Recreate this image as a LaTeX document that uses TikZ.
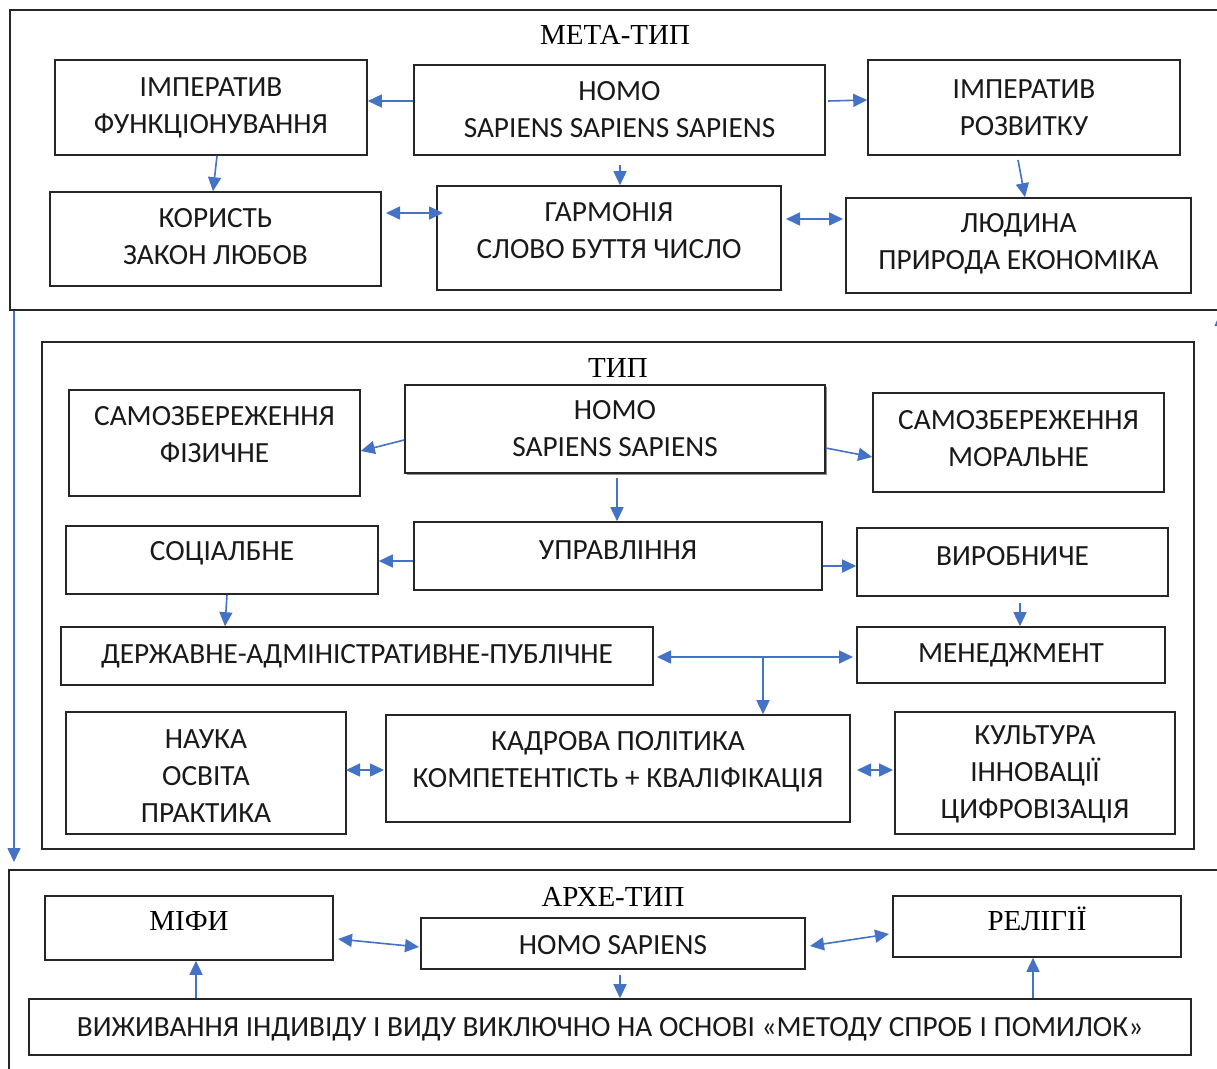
\documentclass[tikz,border=0pt]{standalone}
\usepackage{fontspec}
\setmainfont{Liberation Serif}
\newfontfamily\boxfont{Carlito}
\usetikzlibrary{arrows.meta,shadows}
\definecolor{arrowblue}{HTML}{4472C4}
\begin{document}
\begin{tikzpicture}[x=1pt,y=-1pt,
  frame/.style={draw=black!85,line width=1.6pt},
  box/.style={draw=black!85,line width=1.6pt,fill=white,inner sep=0pt},
  txt/.style={font=\boxfont\fontsize{29.3}{37}\selectfont,align=center,text=black!90},
  ttl/.style={font=\fontsize{29}{33}\selectfont,text=black},
  arr/.style={draw=arrowblue,line width=1.6pt,-{Triangle[length=14pt,width=13pt]}},
  darr/.style={draw=arrowblue,line width=1.6pt,{Triangle[length=14pt,width=13pt]}-{Triangle[length=14pt,width=13pt]}}
]
\useasboundingbox (0,0) rectangle (1217,1068);
\fill[white] (0,0) rectangle (1217,1068);

% frames
\draw[frame] (10,10) rectangle (1240,310);
\draw[frame] (42,342) rectangle (1194,849);
\draw[frame] (9,870) rectangle (1240,1090);

% titles
\node[ttl] (t1) at (615,35) {МЕТА-ТИП};
\node[ttl] (t2) at (618,368) {ТИП};
\node[ttl] (t3) at (613,897) {АРХЕ-ТИП};

% top section
\node[box,minimum width=312,minimum height=95,label={[txt]center:ІМПЕРАТИВ\\ФУНКЦІОНУВАННЯ}] (A) at (211,107.5) {};
\node[box,minimum width=411,minimum height=90,label={[txt]center:HOMO\\SAPIENS SAPIENS SAPIENS}] (B) at (619.5,110) {};
\node[box,minimum width=312,minimum height=95,label={[txt]center:ІМПЕРАТИВ\\РОЗВИТКУ}] (C) at (1024,107.5) {};
\node[box,minimum width=331,minimum height=94,label={[txt,yshift=2pt]center:КОРИСТЬ\\ЗАКОН ЛЮБОВ}] (D) at (215.5,239) {};
\node[box,minimum width=344,minimum height=104,label={[txt,yshift=7pt]center:ГАРМОНІЯ\\СЛОВО БУТТЯ ЧИСЛО}] (E) at (609,238) {};
\node[box,minimum width=345,minimum height=95,label={[txt,yshift=2pt]center:ЛЮДИНА\\ПРИРОДА ЕКОНОМІКА}] (F) at (1018.5,245.5) {};

% middle section
\node[box,minimum width=291,minimum height=106,label={[txt,yshift=8pt]center:САМОЗБЕРЕЖЕННЯ\\ФІЗИЧНЕ}] (M1) at (214.5,443) {};
\node[box,drop shadow={shadow xshift=2pt,shadow yshift=-2pt,fill=black!45,opacity=1},minimum width=420,minimum height=88,label={[txt]center:HOMO\\SAPIENS SAPIENS}] (M2) at (615,429) {};
\node[box,minimum width=291,minimum height=99,label={[txt,yshift=4pt]center:САМОЗБЕРЕЖЕННЯ\\МОРАЛЬНЕ}] (M3) at (1018.5,442.5) {};
\node[box,minimum width=312,minimum height=68,label={[txt,yshift=7pt]center:СОЦІАЛБНЕ}] (M4) at (222,560) {};
\node[box,minimum width=408,minimum height=68,label={[txt,yshift=6pt]center:УПРАВЛІННЯ}] (M5) at (618,556) {};
\node[box,minimum width=311,minimum height=68,label={[txt,yshift=6pt]center:ВИРОБНИЧЕ}] (M6) at (1012.5,562) {};
\node[box,minimum width=592,minimum height=58,label={[txt]center:ДЕРЖАВНЕ-АДМІНІСТРАТИВНЕ-ПУБЛІЧНЕ}] (M7) at (357,656) {};
\node[box,minimum width=308,minimum height=56,label={[txt]center:МЕНЕДЖМЕНТ}] (M8) at (1011,655) {};
\node[box,minimum width=280,minimum height=122,label={[txt,yshift=-3pt]center:НАУКА\\ОСВІТА\\ПРАКТИКА}] (M9) at (206,773) {};
\node[box,minimum width=464,minimum height=107,label={[txt,yshift=7pt]center:КАДРОВА ПОЛІТИКА\\КОМПЕТЕНТІСТЬ + КВАЛІФІКАЦІЯ}] (M10) at (618,768.5) {};
\node[box,minimum width=280,minimum height=122,label={[txt,yshift=-1pt]center:КУЛЬТУРА\\ІННОВАЦІЇ\\ЦИФРОВІЗАЦІЯ}] (M11) at (1035,773) {};

% bottom section
\node[box,minimum width=288,minimum height=64,label={[ttl,yshift=7pt]center:МІФИ}] (B1) at (189,928) {};
\node[box,minimum width=384,minimum height=51,label={[txt,yshift=-2pt]center:HOMO SAPIENS}] (B2) at (613,943.5) {};
\node[box,minimum width=288,minimum height=61,label={[ttl,yshift=8pt]center:РЕЛІГІЇ}] (B3) at (1037,926.5) {};
\node[box,minimum width=1162,minimum height=56,label={[txt,yshift=-2pt]center:ВИЖИВАННЯ ІНДИВІДУ І ВИДУ ВИКЛЮЧНО НА ОСНОВІ «МЕТОДУ СПРОБ І ПОМИЛОК»}] (B4) at (610,1027) {};

% top arrows
\draw[arr] (B.west |- 0,101) -- (A.east |- 0,101);
\draw[arr] (828,101) -- (C.west |- 0,100);
\draw[arr] (A.south -| 217,0) -- (D.north -| 213,0);
\draw[arr] (620,165) -- (E.north -| 620,0);
\draw[arr] (1018,160) -- (F.north -| 1025,0);
\draw[darr] (386,213) -- (443,213);
\draw[darr] (786,219) -- (843,219);

% middle arrows
\draw[arr] (M2.west |- 0,440) -- (M1.east |- 0,451);
\draw[arr] (M2.east |- 0,448) -- (M3.west |- 0,457);
\draw[arr] (617,478) -- (M5.north -| 617,0);
\draw[arr] (M5.west |- 0,561) -- (M4.east |- 0,561);
\draw[arr] (M5.east |- 0,566) -- (M6.west |- 0,566);
\draw[arr] (M4.south -| 227,0) -- (M7.north -| 225,0);
\draw[arr] (1020,603) -- (M8.north -| 1020,0);
\draw[darr] (657,657) -- (853,657);
\coordinate (J) at (763,657);
\draw[arr] (J) -- (M10.north -| 763,0);
\draw[darr] (346,770) -- (384,770);
\draw[darr] (857,770) -- (893,770);

% bottom arrows
\draw[darr] (338,939) -- (419,947);
\draw[darr] (810,946) -- (889,934);
\draw[arr] (620,975) -- (B4.north -| 620,0);
\draw[arr] (B4.north -| 196,0) -- (B1.south -| 196,0);
\draw[arr] (B4.north -| 1033,0) -- (B3.south -| 1033,0);

% long left arrow and right fragment
\coordinate (L1) at (14,311);
\coordinate (L2) at (14,862);
\draw[arr] (L1) -- (L2);
\coordinate (R1) at (1221,345);
\coordinate (R2) at (1221,312);
\draw[arr] (R1) -- (R2);
\end{tikzpicture}
\end{document}
